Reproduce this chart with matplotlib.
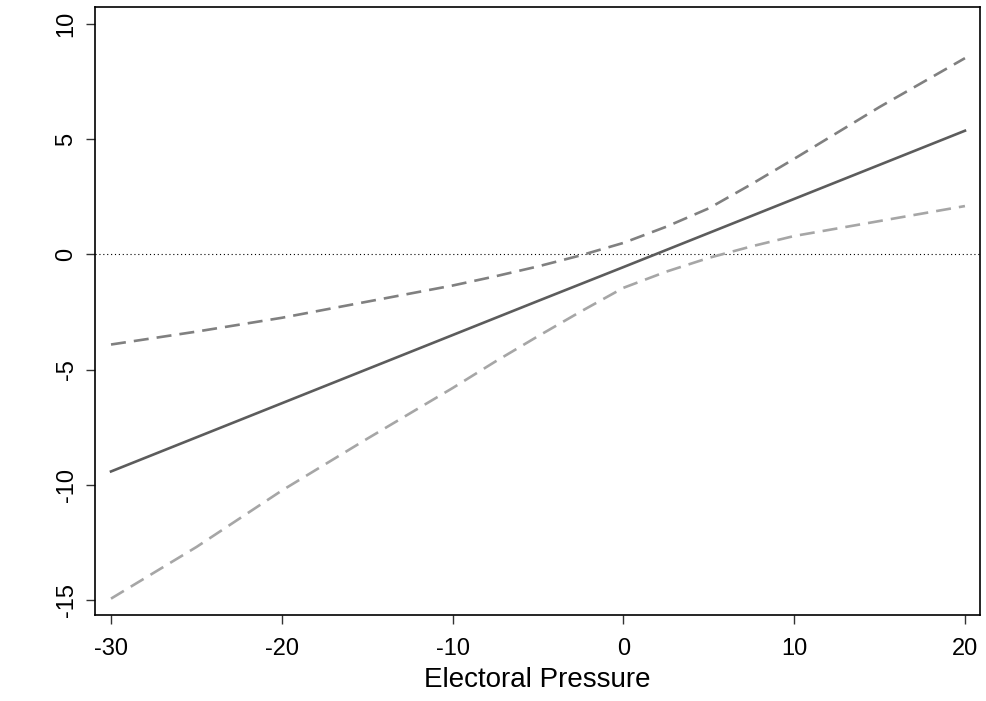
import matplotlib
matplotlib.use("Agg")
import matplotlib.pyplot as plt

# Marginal effect of electoral pressure with confidence bounds
pressure = [-30, -25, -20, -15, -10, -5, 0, 5, 10, 15, 20]
effect = [-9.42, -7.94, -6.46, -4.98, -3.50, -2.02, -0.55, 0.93, 2.41, 3.89, 5.37]

bound_x = [-30, -25, -20, -15, -10, -7.5, -5, -2.5, 0, 2.5, 5, 7.5, 10, 15, 20]
upper = [-3.91, -3.35, -2.75, -2.05, -1.35, -0.95, -0.52, -0.04, 0.50, 1.20,
         2.00, 3.05, 4.15, 6.40, 8.52]
lower = [-14.94, -12.70, -10.25, -8.00, -5.80, -4.65, -3.55, -2.48, -1.45, -0.75,
         -0.15, 0.35, 0.80, 1.45, 2.10]

x_ticks = [-30, -20, -10, 0, 10, 20]
y_ticks = [-15, -10, -5, 0, 5, 10]
x_label = "Electoral Pressure"

plt.rcParams["font.family"] = ["Liberation Sans", "DejaVu Sans"]
plt.rcParams["axes.unicode_minus"] = False
plt.rcParams["lines.scale_dashes"] = False

fig = plt.figure(figsize=(9.86, 7.01), dpi=100)
ax = fig.add_axes([0.0963, 0.1227, 0.8976, 0.8673])

ax.axhline(0, color="black", lw=0.8, ls=(0, (0.8, 2.0)), zorder=1)
ax.plot(bound_x, upper, color="#808080", lw=1.9, dashes=(10.8, 5.8), zorder=2)
ax.plot(bound_x, lower, color="#a6a6a6", lw=1.9, dashes=(10.8, 5.8), zorder=2)
ax.plot(pressure, effect, color="#5c5c5c", lw=1.9, zorder=3)

ax.set_xlim(-30.94, 20.88)
ax.set_ylim(-15.65, 10.74)
ax.set_xticks(x_ticks)
ax.set_yticks(y_ticks)
ax.set_xticklabels([str(v) for v in x_ticks])
ax.set_yticklabels([str(v) for v in y_ticks])

ax.tick_params(axis="both", labelsize=17, length=6.5, width=1.0, color="#333333")
ax.tick_params(axis="x", pad=10)
ax.tick_params(axis="y", pad=6)
for lab in ax.get_yticklabels():
    lab.set_rotation(90)
    lab.set_va("center")

for sp in ax.spines.values():
    sp.set_linewidth(1.2)
    sp.set_color("black")

ax.set_xlabel(x_label, fontsize=20, labelpad=5)

fig.savefig("out.png", dpi=100)
